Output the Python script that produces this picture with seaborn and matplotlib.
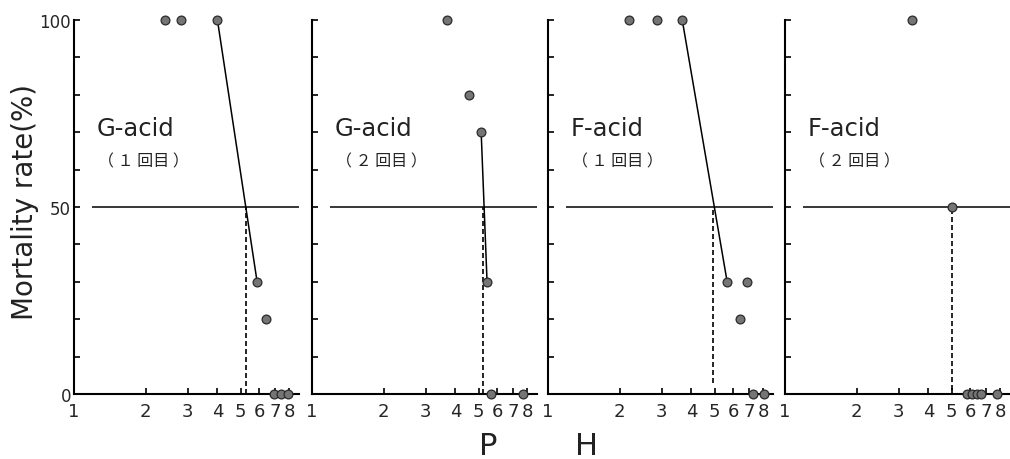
import matplotlib
matplotlib.use('Agg')
import matplotlib.pyplot as plt
import numpy as np
import pandas as pd
import seaborn as sns
from matplotlib.ticker import FixedLocator, FixedFormatter, NullLocator

# panel titles
ACIDS = ['G-acid', 'G-acid', 'F-acid', 'F-acid']
RUNS = ['（ １ 回目 ）', '（ ２ 回目 ）', '（ １ 回目 ）', '（ ２ 回目 ）']

# pH / mortality (%)
PH_1 = [2.4, 2.8, 4.0, 5.87, 6.4, 6.9, 7.4, 7.9]
MORT_1 = [100, 100, 100, 30, 20, 0, 0, 0]
PH_2 = [3.7, 4.54, 5.13, 5.43, 5.65, 7.66]
MORT_2 = [100, 80, 70, 30, 0, 0]
PH_3 = [2.19, 2.87, 3.66, 5.65, 6.82, 6.42, 7.28, 8.04]
MORT_3 = [100, 100, 100, 30, 30, 20, 0, 0]
PH_4 = [3.41, 5.03, 5.81, 6.1, 6.38, 6.65, 7.73]
MORT_4 = [100, 50, 0, 0, 0, 0, 0]

# indices of the two points joined by the solid segment (None = no segment)
LINKS = [(2, 3), (2, 3), (2, 3), None]
# pH at 50 % mortality (dashed drop line)
LC50 = [5.27, 5.2, 4.95, 5.04]
DROP_BOTTOM = [0, 0, 3, 1]

X_TICKS = [1, 2, 3, 4, 5, 6, 7, 8]
Y_TICKS = list(range(0, 101, 10))
Y_LABELS = ['0' if v == 0 else '50' if v == 50 else '100' if v == 100 else '' for v in Y_TICKS]

LEFTS = [74, 312, 548, 785]
PANEL_W = 225
FIG_W, FIG_H = 1010, 460
AX_BOTTOM, AX_TOP = 395, 21
XMAX = 8.8
MARKER_FACE = '#757575'


def draw_panel(ax, ph, mort, link, lc50, drop_bottom, acid, run, show_ylabels):
    df = pd.DataFrame({'pH': ph, 'mortality': mort})
    ax.hlines(50, 1.19, XMAX, color='black', lw=1.1, zorder=1)
    ax.vlines(lc50, drop_bottom, 50, color='black', lw=1.2, linestyles=(0, (3, 1.8)), zorder=1)
    if link is not None:
        seg = df.iloc[list(link)]
        sns.lineplot(ax=ax, data=seg, x='pH', y='mortality', sort=False, estimator=None,
                     color='black', lw=1.1, zorder=2)
    sns.scatterplot(ax=ax, data=df, x='pH', y='mortality', s=40, color=MARKER_FACE,
                    edgecolor='#2a2a2a', linewidth=0.9, zorder=3, clip_on=False)
    ax.set_xscale('log')
    ax.set_xlim(1, XMAX)
    ax.set_ylim(0, 100)
    ax.xaxis.set_major_locator(FixedLocator(X_TICKS))
    ax.xaxis.set_major_formatter(FixedFormatter([str(t) for t in X_TICKS]))
    ax.xaxis.set_minor_locator(NullLocator())
    ax.yaxis.set_major_locator(FixedLocator(Y_TICKS))
    ax.yaxis.set_major_formatter(FixedFormatter(Y_LABELS if show_ylabels else [''] * len(Y_TICKS)))
    ax.tick_params(axis='both', direction='in', length=4, width=1.2, color='black')
    ax.tick_params(axis='x', labelsize=13, pad=6)
    ax.tick_params(axis='y', labelsize=12, pad=2)
    ax.set_xlabel('')
    ax.set_ylabel('')
    for side in ['top', 'right']:
        ax.spines[side].set_visible(False)
    for side in ['left', 'bottom']:
        ax.spines[side].set_color('black')
        ax.spines[side].set_linewidth(1.5)
    ax.text(0.1, 71, acid, transform=ax.get_yaxis_transform(), fontsize=17.5,
            ha='left', va='center', color='#222222')
    ax.text(0.105, 62.3, run, transform=ax.get_yaxis_transform(), fontsize=11.5,
            ha='left', va='center', color='#222222', family=['Noto Sans CJK JP', 'DejaVu Sans'])


def main():
    sns.set_style('ticks')
    plt.rcParams['font.family'] = ['DejaVu Sans', 'Noto Sans CJK JP']
    fig = plt.figure(figsize=(FIG_W / 100, FIG_H / 100), dpi=100)
    data = [(PH_1, MORT_1), (PH_2, MORT_2), (PH_3, MORT_3), (PH_4, MORT_4)]
    bottom = (FIG_H - AX_BOTTOM) / FIG_H
    height = (AX_BOTTOM - AX_TOP) / FIG_H
    for i, (ph, mort) in enumerate(data):
        ax = fig.add_axes([LEFTS[i] / FIG_W, bottom, PANEL_W / FIG_W, height])
        draw_panel(ax, ph, mort, LINKS[i], LC50[i], DROP_BOTTOM[i], ACIDS[i], RUNS[i], i == 0)
    fig.text(0.025, 0.561, 'Mortality rate(%)', rotation=90, ha='center', va='center',
             fontsize=20, color='#222222')
    fig.text(0.483, 0.03, 'P', ha='center', va='center', fontsize=22, color='#222222')
    fig.text(0.581, 0.03, 'H', ha='center', va='center', fontsize=22, color='#222222')
    fig.savefig('out.png', dpi=100)


if __name__ == '__main__':
    main()
